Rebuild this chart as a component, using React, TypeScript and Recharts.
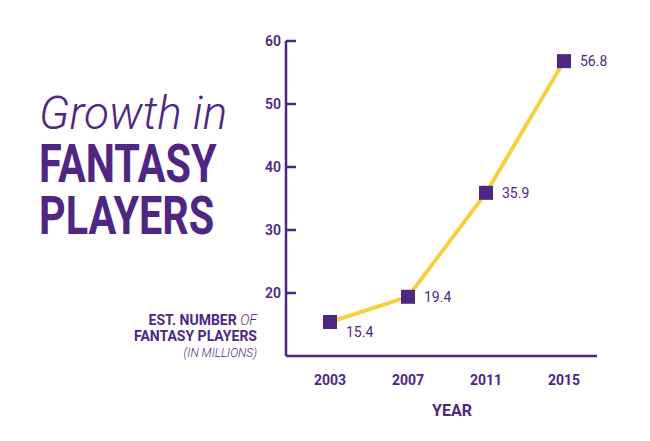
import React from 'react';
import { LineChart, Line, XAxis, YAxis } from 'recharts';

const years = ['2003', '2007', '2011', '2015'];
const players = [15.4, 19.4, 35.9, 56.8];
const yTicks = [20, 30, 40, 50, 60];

const PURPLE = '#4f2683';
const YELLOW = '#f7d13d';
const SANS = '"Roboto", "Liberation Sans", sans-serif';

const data = years.map((year, i) => ({ year, value: players[i] }));

const YTick = (props: any) => {
  const { x, y, payload } = props;
  return (
    <g>
      <line x1={x} y1={y} x2={x + 10} y2={y} stroke={PURPLE} strokeWidth={2.5} />
      <text x={x - 5} y={y} dy={5} textAnchor="end" fill={PURPLE} fontFamily={SANS} fontSize={14} fontWeight={600}>
        {payload.value}
      </text>
    </g>
  );
};

const Square = (props: any) => {
  const { cx, cy } = props;
  if (cx == null || cy == null) return null;
  return <rect x={cx - 7} y={cy - 7} width={14} height={14} fill={PURPLE} />;
};

const PointLabel = (props: any) => {
  const { x, y, value, index } = props;
  const dy = index === 0 ? 15 : 5;
  return (
    <text x={x + 16} y={y + dy} fill={PURPLE} fontFamily={SANS} fontSize={14}>
      {value}
    </text>
  );
};

const abs = (s: React.CSSProperties): React.CSSProperties => ({ position: 'absolute', margin: 0, color: PURPLE, whiteSpace: 'nowrap', ...s });

const narrow = (s: React.CSSProperties): React.CSSProperties =>
  abs({ fontFamily: SANS, fontWeight: 700, transform: 'scaleX(0.78)', transformOrigin: 'left top', ...s });

export default function App() {
  return (
    <div style={{ position: 'absolute', left: 0, top: 0, width: 650, height: 441, background: '#fff', overflow: 'hidden' }}>
      <div style={abs({ left: 39, top: 90, fontFamily: SANS, fontStyle: 'italic', fontWeight: 300, fontSize: 46, lineHeight: '46px' })}>
        Growth in
      </div>
      <div style={narrow({ left: 39, top: 139, fontSize: 53, lineHeight: '50px' })}>FANTASY</div>
      <div style={narrow({ left: 39, top: 191, fontSize: 53, lineHeight: '50px' })}>PLAYERS</div>
      <div style={abs({ right: 650 - 257, top: 312, textAlign: 'right', fontFamily: SANS, fontWeight: 700, fontSize: 14, lineHeight: '16px' })}>
        EST. NUMBER <span style={{ fontStyle: 'italic', fontWeight: 300 }}>OF</span>
        <br />
        FANTASY PLAYERS
        <br />
        <span style={{ fontStyle: 'italic', fontWeight: 300, fontSize: 12 }}>(IN MILLIONS)</span>
      </div>
      <div style={abs({ left: 452, top: 401, transform: 'translateX(-50%)', fontFamily: SANS, fontWeight: 700, fontSize: 16 })}>
        YEAR
      </div>
      <div style={{ position: 'absolute', left: 0, top: 0 }}>
        <LineChart width={650} height={441} data={data} margin={{ top: 41, right: 53, bottom: 55, left: 0 }}>
          <XAxis
            dataKey="year"
            height={30}
            padding={{ left: 44, right: 33 }}
            axisLine={{ stroke: PURPLE, strokeWidth: 2.5 }}
            tickLine={false}
            tick={{ fill: PURPLE, fontFamily: SANS, fontSize: 14, fontWeight: 700 }}
            tickMargin={13}
          />
          <YAxis
            width={286}
            domain={[10, 60]}
            ticks={yTicks}
            allowDataOverflow
            axisLine={{ stroke: PURPLE, strokeWidth: 2.5 }}
            tickLine={false}
            tickSize={0}
            tickMargin={0}
            tick={<YTick />}
          />
          <Line
            dataKey="value"
            stroke={YELLOW}
            strokeWidth={4}
            dot={<Square />}
            activeDot={false}
            label={<PointLabel />}
            isAnimationActive={false}
          />
        </LineChart>
      </div>
    </div>
  );
}
